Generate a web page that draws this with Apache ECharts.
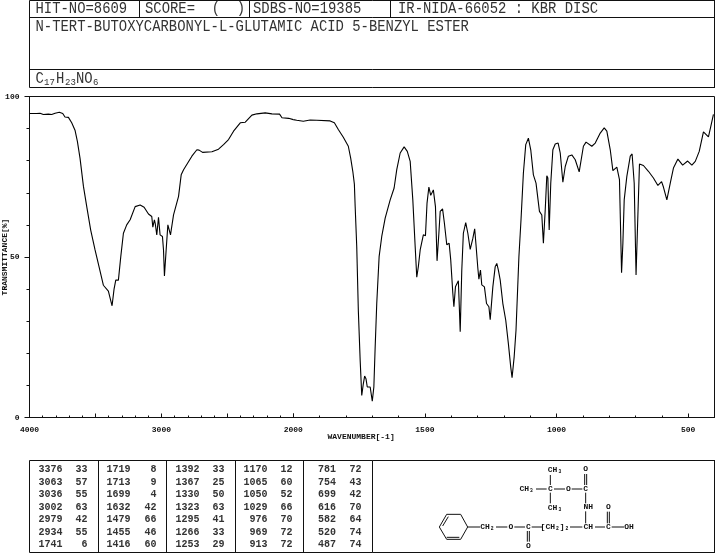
<!DOCTYPE html>
<html>
<head>
<meta charset="utf-8">
<script src="https://cdn.jsdelivr.net/npm/echarts@6/dist/echarts.min.js"></script>
<style>html,body{margin:0;padding:0;background:#fff}#c{width:715px;height:553px}</style>
</head>
<body>
<div id="c"></div>
<script>
const headerCells = ['HIT-NO=8609', 'SCORE=  (  )', 'SDBS-NO=19385', 'IR-NIDA-66052 : KBR DISC'];
const compoundName = 'N-TERT-BUTOXYCARBONYL-L-GLUTAMIC ACID 5-BENZYL ESTER';
const xTitle = 'WAVENUMBER[-1]';
const yTitle = 'TRANSMITTANCE[%]';
const highLabels = [4000, 3000];
const lowLabels = [2000, 1500, 1000, 500];
const yLabels = [0, 50, 100];

// Spectrum above 2000 cm-1: [wavenumber, %T]
const spectrumHigh = [
[4000,94.7],[3946,94.7],[3920,94.8],[3895,94.4],[3857,94.5],[3832,94.4],[3806,94.8],[3774,95.1],[3748,94.7],[3731,93.6],
[3705,93.5],[3680,91.8],[3655,89.5],[3637,86.0],[3617,80.8],[3591,72.0],[3566,65.7],[3536,58.4],[3503,52.2],[3473,47.0],
[3440,41.2],[3402,39.4],[3384,36.4],[3374,34.8],[3359,40.0],[3346,42.8],[3326,42.8],[3308,50.1],[3288,57.4],[3263,60.0],
[3237,61.6],[3199,65.7],[3161,66.2],[3131,65.5],[3098,63.4],[3073,62.6],[3065,59.3],[3053,61.6],[3047,60.5],[3035,56.9],
[3022,62.4],[3010,56.9],[2992,56.4],[2984,52.2],[2977,44.1],[2964,52.2],[2951,60.0],[2941,60.0],[2931,56.9],[2908,63.1],
[2870,68.9],[2850,75.6],[2832,77.2],[2769,81.4],[2731,83.4],[2714,83.3],[2688,82.6],[2617,82.8],[2605,83.4],[2567,83.6],
[2529,85.0],[2491,86.6],[2453,89.2],[2402,91.8],[2364,92.0],[2314,94.2],[2276,94.6],[2213,94.9],[2162,94.6],[2104,94.5],
[2086,93.4],[2035,93.2],[2000,92.8]];

// Spectrum below 2000 cm-1: [wavenumber, %T]
const spectrumLow = [
[2000,92.8],[1987,92.6],[1962,92.3],[1936,92.7],[1911,92.6],[1860,92.4],[1844,91.8],[1829,89.7],[1810,87.3],[1791,84.5],
[1782,80.8],[1774,76.7],[1768,72.7],[1765,65.7],[1759,53.2],[1753,33.4],[1746,17.8],[1740,6.9],[1734,10.5],[1729,12.9],
[1724,12.1],[1719,9.5],[1708,9.5],[1700,5.1],[1694,9.5],[1689,22.0],[1683,35.5],[1674,50.1],[1664,56.4],[1651,62.1],
[1632,67.8],[1617,71.5],[1607,77.2],[1594,82.4],[1579,84.3],[1567,82.9],[1556,79.8],[1546,67.8],[1537,53.2],[1531,43.7],
[1525,47.0],[1518,52.2],[1506,56.9],[1498,56.6],[1492,66.8],[1485,71.8],[1478,69.2],[1468,70.9],[1460,65.7],[1454,48.8],
[1447,57.4],[1442,64.2],[1433,65.0],[1426,60.5],[1417,53.8],[1408,54.3],[1402,49.1],[1394,38.7],[1390,34.5],[1384,40.7],
[1373,42.6],[1366,26.7],[1360,45.9],[1354,57.4],[1345,60.7],[1337,57.4],[1328,52.4],[1318,55.8],[1311,58.8],[1306,53.8],
[1299,46.5],[1295,43.1],[1289,45.9],[1284,41.3],[1274,40.7],[1266,35.5],[1257,34.5],[1252,30.5],[1242,40.7],[1233,47.0],
[1227,48.0],[1221,45.9],[1214,42.8],[1204,35.5],[1193,30.3],[1183,23.0],[1174,15.7],[1169,12.4],[1161,18.9],[1154,27.2],
[1143,50.1],[1135,61.6],[1126,76.1],[1117,85.0],[1107,87.0],[1098,83.4],[1088,75.6],[1078,73.0],[1073,73.3],[1065,64.2],
[1056,63.1],[1050,54.3],[1043,64.7],[1037,75.3],[1033,74.6],[1028,58.4],[1022,73.0],[1014,83.4],[1005,85.2],[994,85.5],
[986,82.4],[976,73.3],[967,78.2],[955,81.4],[942,81.8],[929,80.3],[914,76.5],[908,76.7],[898,84.5],[888,85.8],
[866,84.5],[853,85.5],[834,88.6],[819,90.2],[809,89.2],[796,83.4],[786,76.9],[771,78.0],[761,74.1],[753,45.1],
[748,54.3],[743,67.8],[733,75.1],[720,81.4],[713,82.1],[705,73.0],[698,44.4],[692,60.5],[685,79.0],[670,78.5],
[651,76.7],[632,74.6],[615,72.3],[601,73.5],[594,71.8],[581,67.8],[568,73.0],[556,77.7],[539,80.5],[521,78.6],
[502,79.9],[486,78.6],[473,79.8],[458,82.9],[442,89.0],[423,87.4],[414,90.7],[404,94.4]];

// Peak table, column by column: [wavenumber, %T]
const peakColumn1 = [[3376,33],[3063,57],[3036,55],[3002,63],[2979,42],[2934,55],[1741,6]];
const peakColumn2 = [[1719,8],[1713,9],[1699,4],[1632,42],[1479,66],[1455,46],[1416,60]];
const peakColumn3 = [[1392,33],[1367,25],[1330,50],[1323,63],[1295,41],[1266,33],[1253,29]];
const peakColumn4 = [[1170,12],[1065,60],[1050,52],[1029,66],[976,70],[969,72],[913,72]];
const peakColumn5 = [[781,72],[754,43],[699,42],[616,70],[582,64],[520,74],[487,74]];

const INK = '#111';
const g = [];
const line = (x1, y1, x2, y2, w) => g.push({type:'line', silent:true, shape:{x1,y1,x2,y2}, style:{stroke:INK, lineWidth:w||1}});
const text = (t, x, y, size, opt) => g.push(Object.assign({type:'text', silent:true, x, y, style:{
  text:t, fill:(opt&&opt.fill)||INK, font:(opt&&opt.bold?'bold ':'')+size+'px "Liberation Mono"', textAlign:(opt&&opt.align)||'left', textVerticalAlign:'middle'
}}, (opt&&opt.el)||{}));

// header boxes
const tall = {fill:'#333', el:{scaleY:1.15}};
line(29.5,0.5,715,0.5); line(29.5,17.5,715,17.5); line(29.5,69.5,715,69.5); line(29.5,87.5,715,87.5);
line(29.5,0.5,29.5,87.5); line(714.5,0.5,714.5,87.5);
line(139.5,0.5,139.5,17.5); line(249.5,0.5,249.5,17.5); line(390.5,0.5,390.5,17.5);
const headerX = [35.5,145,253,398];
headerCells.forEach((t,i)=>text(t, headerX[i], 9, 13.9, tall));
text(compoundName, 35.5, 27, 13.9, tall);
text('C',35.5,79,13.9,tall); text('17',44,83,9,{fill:'#333'}); text('H',56,79,13.9,tall); text('23',65,83,9,{fill:'#333'}); text('NO',76,79,13.9,tall); text('6',93,83,9,{fill:'#333'});

// plot frame
line(29.5,96.5,714.5,96.5); line(714.5,96.5,714.5,417.5);
text(xTitle, 327.5, 437, 8, {bold:true});
g.push({type:'text', silent:true, x:5, y:257, rotation:Math.PI/2, style:{text:yTitle, fill:INK, font:'bold 8px "Liberation Mono"', textAlign:'center', textVerticalAlign:'middle'}});

// table frame
line(29.5,460.5,715,460.5); line(29.5,552.5,715,552.5); line(29.5,460.5,29.5,552.5); line(714.5,460.5,714.5,552.5);
[98.5,166.5,235.5,303.5,372.5].forEach(x=>line(x,460.5,x,552.5));
const rowY = [469.5,482,494.5,507,519.5,532,544.5];
const colX = [[62.5,87.5],[130.5,156.5],[199.5,224.5],[267.5,292.5],[336,361.5]];
[peakColumn1,peakColumn2,peakColumn3,peakColumn4,peakColumn5].forEach((col,c)=>col.forEach((p,r)=>{
  text(String(p[0]), colX[c][0], rowY[r], 10, {align:'right',bold:true,fill:'#333'});
  text(String(p[1]), colX[c][1], rowY[r], 10, {align:'right',bold:true,fill:'#333'});
}));

// molecular structure (offsets in 1/3 px from its corner)
const sx = v => 370+v/3, sy = v => 450+v/3;
const bond = (a,b,c,d) => line(sx(a),sy(b),sx(c),sy(d));
const atom = (t,a,b) => text(t,sx(a),sy(b),8,{align:'center',bold:true});
const atoms = [['CH\u2083',555,60],['O',647,58],['CH\u2083',470,117],['C',541,117],['O',595,116],['C',647,116],['CH\u2083',555,173],['NH',655,172],['O',715,172],
['CH\u2082',352,231],['O',423,231],['C',475,231],['[CH\u2082]\u2082',555,231],['CH',655,231],['C',715,231],['OH',777,231],['O',475,287]];
atoms.forEach(h=>atom(h[0],h[1],h[2]));
[[541,75,541,105],[498,117,530,117],[552,117,585,117],[605,117,637,117],[644,72,644,105],[650,72,650,105],[647,128,647,160],[541,128,541,160],
[647,184,647,220],[378,231,412,231],[433,231,465,231],[485,231,518,231],[600,231,637,231],[675,231,705,231],[725,231,762,231],
[712,185,712,220],[718,185,718,220],[472,243,472,275],[478,243,478,275],
[208,231,230,193],[230,193,272,193],[272,193,293,231],[293,231,272,268],[272,268,230,268],[230,268,208,231],
[218,228,235,200],[230,262,268,262],[293,231,330,231]].forEach(b=>bond(b[0],b[1],b[2],b[3]));

const plain = v => String(v);
const labelStyle = {color:INK, fontFamily:'Liberation Mono', fontSize:8, fontWeight:'bold', formatter:plain};
const xAxes = (grid, min, max, minor, major, labels) => {
  const base = {type:'value', gridIndex:grid, min, max, inverse:true, position:'bottom', splitLine:{show:false}, axisLine:{show:true,onZero:false,lineStyle:{color:INK,width:1}}};
  return [
    Object.assign({}, base, {axisTick:{show:true,inside:true,length:4,lineStyle:{color:INK},customValues:major}, axisLabel:{show:true,margin:8,customValues:labels,hideOverlap:false,showMinLabel:true,showMaxLabel:true,...labelStyle}}),
    Object.assign({}, base, {interval:minor, axisTick:{show:true,inside:true,length:2,lineStyle:{color:INK}}, axisLabel:{show:false}})
  ];
};
const option = {
  animation:false,
  backgroundColor:'#fff',
  grid:[
    {left:29.5, width:263.8, top:96.5, height:321, containLabel:false},
    {left:293.3, width:421.2, top:96.5, height:321, containLabel:false}
  ],
  xAxis:[
    ...xAxes(0,2000,4000,100,[2000,2500,3000,3500,4000],highLabels),
    ...xAxes(1,400,2000,100,lowLabels,lowLabels)
  ],
  yAxis:[
    {type:'value',gridIndex:0,min:0,max:100,position:'left',splitLine:{show:false},axisLine:{show:true,onZero:false,lineStyle:{color:INK}},
     axisTick:{show:true,length:5,lineStyle:{color:INK},customValues:yLabels},axisLabel:{show:true,margin:10,customValues:yLabels,...labelStyle}},
    {type:'value',gridIndex:0,min:0,max:100,interval:10,position:'left',splitLine:{show:false},axisLine:{show:false},
     axisTick:{show:true,length:3,lineStyle:{color:INK}},axisLabel:{show:false}},
    {type:'value',gridIndex:1,min:0,max:100,show:false}
  ],
  series:[
    {type:'line',xAxisIndex:0,yAxisIndex:0,data:spectrumHigh,showSymbol:false,symbol:'none',silent:true,lineStyle:{color:'#000',width:1.1}},
    {type:'line',xAxisIndex:2,yAxisIndex:2,data:spectrumLow,showSymbol:false,symbol:'none',silent:true,lineStyle:{color:'#000',width:1.1}}
  ],
  graphic:g
};
echarts.init(document.getElementById('c')).setOption(option);
</script>
</body>
</html>
